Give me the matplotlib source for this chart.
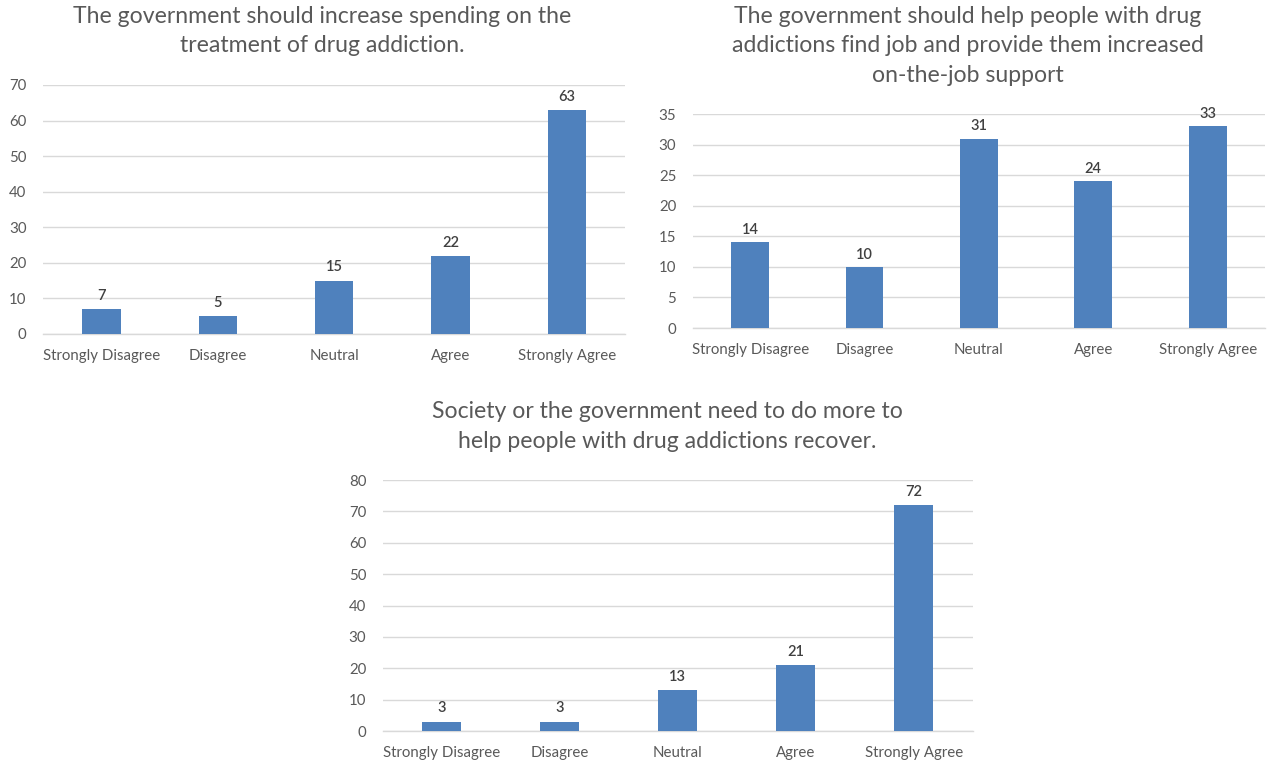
import matplotlib.pyplot as plt

plt.rcParams['font.family'] = ['Lato', 'DejaVu Sans']

categories = ['Strongly Disagree', 'Disagree', 'Neutral', 'Agree', 'Strongly Agree']

spending_counts = [7, 5, 15, 22, 63]
job_support_counts = [14, 10, 31, 24, 33]
recovery_counts = [3, 3, 13, 21, 72]

spending_title = 'The government should increase spending on the\ntreatment of drug addiction.'
job_title = ('The government should help people with drug\n'
             'addictions find job and provide them increased\non-the-job support')
recovery_title = 'Society or the government need to do more to\nhelp people with drug addictions recover.'

bar_color = '#4F81BD'
grid_color = '#D9D9D9'
text_color = '#595959'


def draw_panel(ax, counts, ymax, ystep):
    x = range(len(categories))
    ax.bar(x, counts, width=0.33, color=bar_color, zorder=3)
    for xi, v in zip(x, counts):
        ax.text(xi, v + ymax * 0.025, str(v), ha='center', va='bottom',
                fontsize=10.5, color='#404040', fontweight='semibold')
    ax.set_xlim(-0.5, len(categories) - 0.5)
    ax.set_ylim(0, ymax)
    ax.set_yticks(range(0, ymax + 1, ystep))
    ax.set_xticks(list(x))
    ax.set_xticklabels(categories)
    ax.yaxis.grid(True, color=grid_color, linewidth=1, zorder=0)
    for side in ['top', 'right', 'left']:
        ax.spines[side].set_visible(False)
    ax.spines['bottom'].set_color(grid_color)
    ax.spines['bottom'].set_linewidth(1)
    ax.tick_params(length=0, labelsize=10.8, colors=text_color)
    ax.tick_params(axis='x', pad=11)
    ax.tick_params(axis='y', pad=12)


fig = plt.figure(figsize=(12.68, 7.65), dpi=100)

ax1 = fig.add_axes([0.034, 0.5634, 0.459, 0.3255])
draw_panel(ax1, spending_counts, 70, 10)

ax2 = fig.add_axes([0.5465, 0.5712, 0.451, 0.2797])
draw_panel(ax2, job_support_counts, 35, 5)

ax3 = fig.add_axes([0.302, 0.0444, 0.4653, 0.328])
draw_panel(ax3, recovery_counts, 80, 10)

title_kw = dict(ha='center', va='top', fontsize=16.6, color=text_color, linespacing=1.5)
fig.text(322 / 1268, 1 - 6 / 765, spending_title, **title_kw)
fig.text(968 / 1268, 1 - 6 / 765, job_title, **title_kw)
fig.text(667 / 1268, 1 - 401 / 765, recovery_title, **title_kw)

fig.savefig('out.png', dpi=100)
